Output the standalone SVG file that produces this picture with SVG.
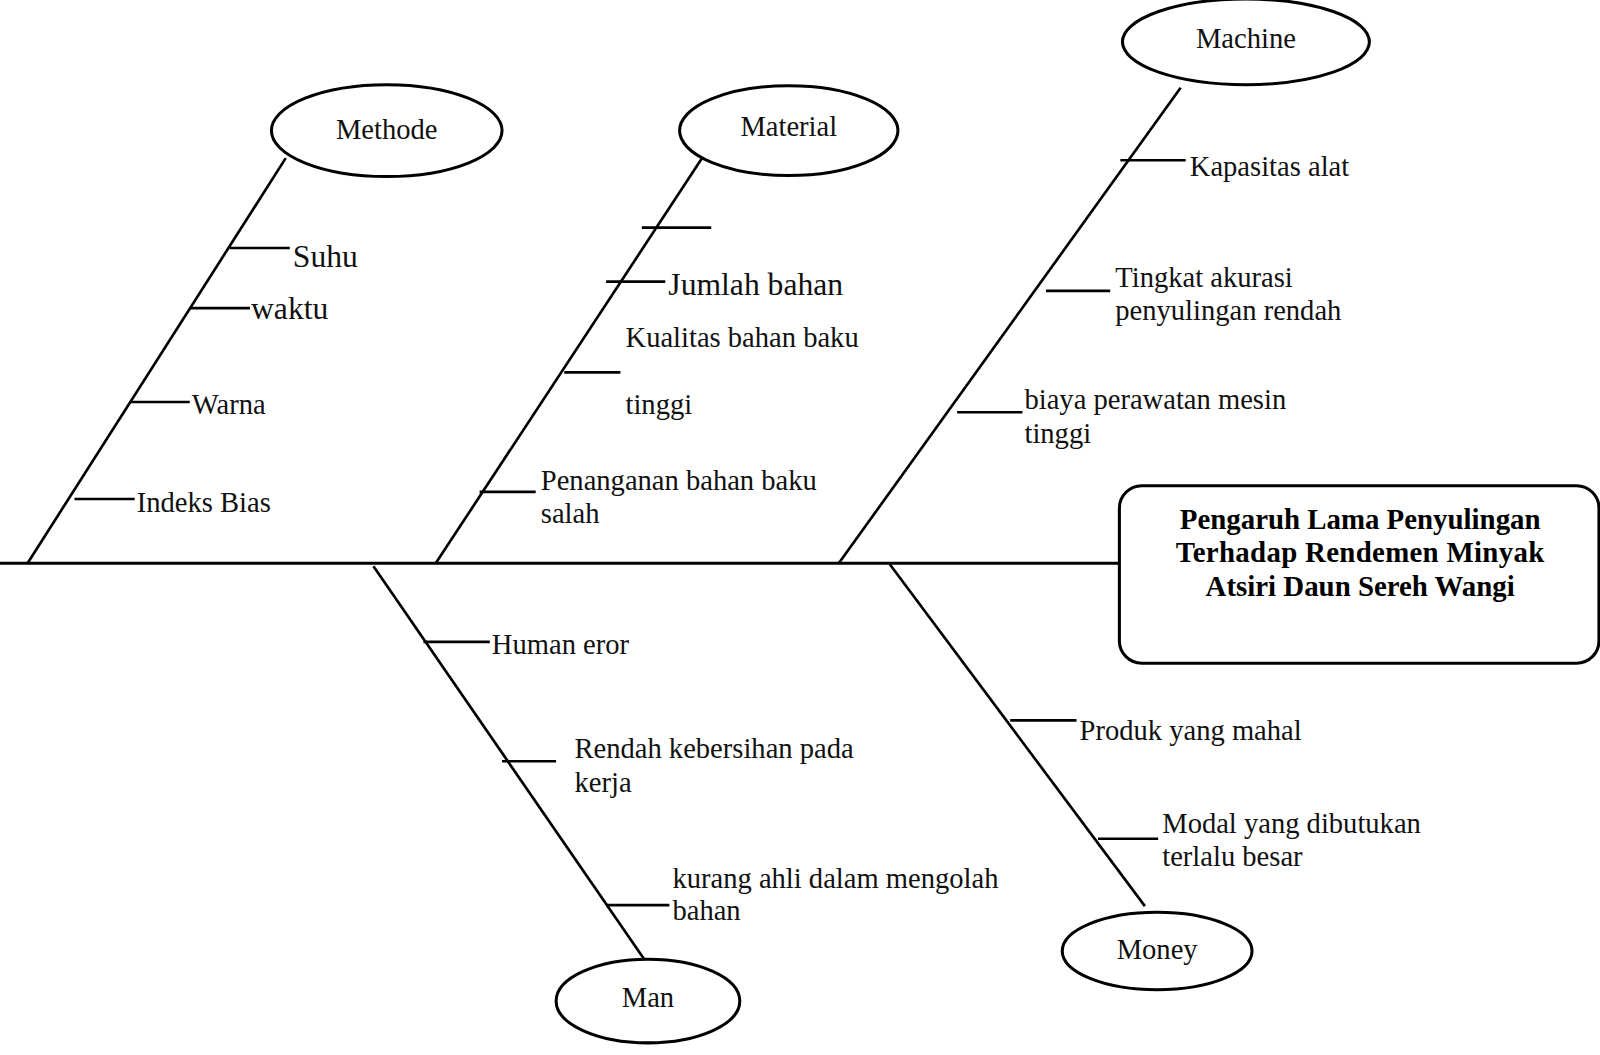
<svg xmlns="http://www.w3.org/2000/svg" width="1600" height="1055" viewBox="0 0 1600 1055">
<style>
.bg{fill:#fff}
.ln{stroke:#000;stroke-width:2.6;fill:none;stroke-linecap:butt}
.el{fill:#fff;stroke:#000;stroke-width:3}
.t{font-family:"Liberation Serif","Times New Roman",serif;font-size:28px;fill:#111}
.tb{font-family:"Liberation Serif","Times New Roman",serif;font-size:31px;fill:#111}
.h{font-family:"Liberation Serif","Times New Roman",serif;font-size:28.3px;font-weight:bold;fill:#000;text-anchor:middle}
.c{text-anchor:middle}
</style>
<rect class="bg" x="0" y="0" width="1600" height="1055"/>
<g transform="scale(1.0204)">
<g id="connectors">
<line class="ln" x1="0" y1="552" x2="1098" y2="552" style="stroke-width:3"/>
<line class="ln" x1="280" y1="155" x2="27" y2="552"/>
<line class="ln" x1="690" y1="152" x2="427" y2="552"/>
<line class="ln" x1="1157" y1="86" x2="822" y2="552"/>
<line class="ln" x1="366" y1="555" x2="632" y2="941"/>
<line class="ln" x1="872" y1="553" x2="1122" y2="888"/>
<line class="ln" x1="225" y1="243" x2="284" y2="243"/>
<line class="ln" x1="187" y1="302" x2="245" y2="302"/>
<line class="ln" x1="128" y1="394" x2="186" y2="394"/>
<line class="ln" x1="73" y1="489" x2="132" y2="489"/>
<line class="ln" x1="629" y1="223" x2="697" y2="223"/>
<line class="ln" x1="594" y1="276" x2="652" y2="276"/>
<line class="ln" x1="553" y1="365" x2="608" y2="365"/>
<line class="ln" x1="470" y1="482" x2="525" y2="482"/>
<line class="ln" x1="1098" y1="157" x2="1162" y2="157"/>
<line class="ln" x1="1025" y1="285" x2="1088" y2="285"/>
<line class="ln" x1="938" y1="404" x2="1002" y2="404"/>
<line class="ln" x1="415" y1="629" x2="480" y2="629"/>
<line class="ln" x1="492" y1="746" x2="545" y2="746"/>
<line class="ln" x1="594" y1="887" x2="656" y2="887"/>
<line class="ln" x1="990" y1="706" x2="1055" y2="706"/>
<line class="ln" x1="1076" y1="822" x2="1135" y2="822"/>
</g>
<g id="effect">
<rect x="1097" y="476" width="470" height="174" rx="22" ry="22" fill="#fff" stroke="#000" stroke-width="3"/>
<text class="h" x="1333" y="518">Pengaruh Lama Penyulingan</text>
<text class="h" x="1333" y="551" letter-spacing="0.3">Terhadap Rendemen Minyak</text>
<text class="h" x="1333" y="584">Atsiri Daun Sereh Wangi</text>
</g>
<g id="methode">
<ellipse class="el" cx="379" cy="128" rx="113" ry="45"/>
<text class="t c" x="379" y="136">Methode</text>
</g>
<g id="material">
<ellipse class="el" cx="773" cy="128" rx="107" ry="44"/>
<text class="t c" x="773" y="133">Material</text>
</g>
<g id="machine">
<ellipse class="el" cx="1221" cy="41" rx="121" ry="42"/>
<text class="t c" x="1221" y="47">Machine</text>
</g>
<g id="man">
<ellipse class="el" cx="635" cy="981" rx="90" ry="41"/>
<text class="t c" x="635" y="987">Man</text>
</g>
<g id="money">
<ellipse class="el" cx="1134" cy="932" rx="93" ry="38"/>
<text class="t c" x="1134" y="940">Money</text>
</g>
<g id="labels">
<text class="tb" x="287" y="262">Suhu</text>
<text class="tb" x="246" y="313">waktu</text>
<text class="t" x="188" y="406">Warna</text>
<text class="t" x="134" y="502">Indeks Bias</text>
<text class="tb" x="655" y="289">Jumlah bahan</text>
<text class="t" x="613" y="340">Kualitas bahan baku</text>
<text class="t" x="613" y="406">tinggi</text>
<text class="t" x="530" y="480">Penanganan bahan baku</text>
<text class="t" x="530" y="513">salah</text>
<text class="t" x="1166" y="172">Kapasitas alat</text>
<text class="t" x="1093" y="281">Tingkat akurasi</text>
<text class="t" x="1093" y="314">penyulingan rendah</text>
<text class="t" x="1004" y="401">biaya perawatan mesin</text>
<text class="t" x="1004" y="434">tinggi</text>
<text class="t" x="482" y="641">Human eror</text>
<text class="t" x="563" y="743">Rendah kebersihan pada</text>
<text class="t" x="563" y="776">kerja</text>
<text class="t" x="659" y="870">kurang ahli dalam mengolah</text>
<text class="t" x="659" y="902">bahan</text>
<text class="t" x="1058" y="725">Produk yang mahal</text>
<text class="t" x="1139" y="816">Modal yang dibutukan</text>
<text class="t" x="1139" y="849">terlalu besar</text>
</g>
</g>
</svg>
